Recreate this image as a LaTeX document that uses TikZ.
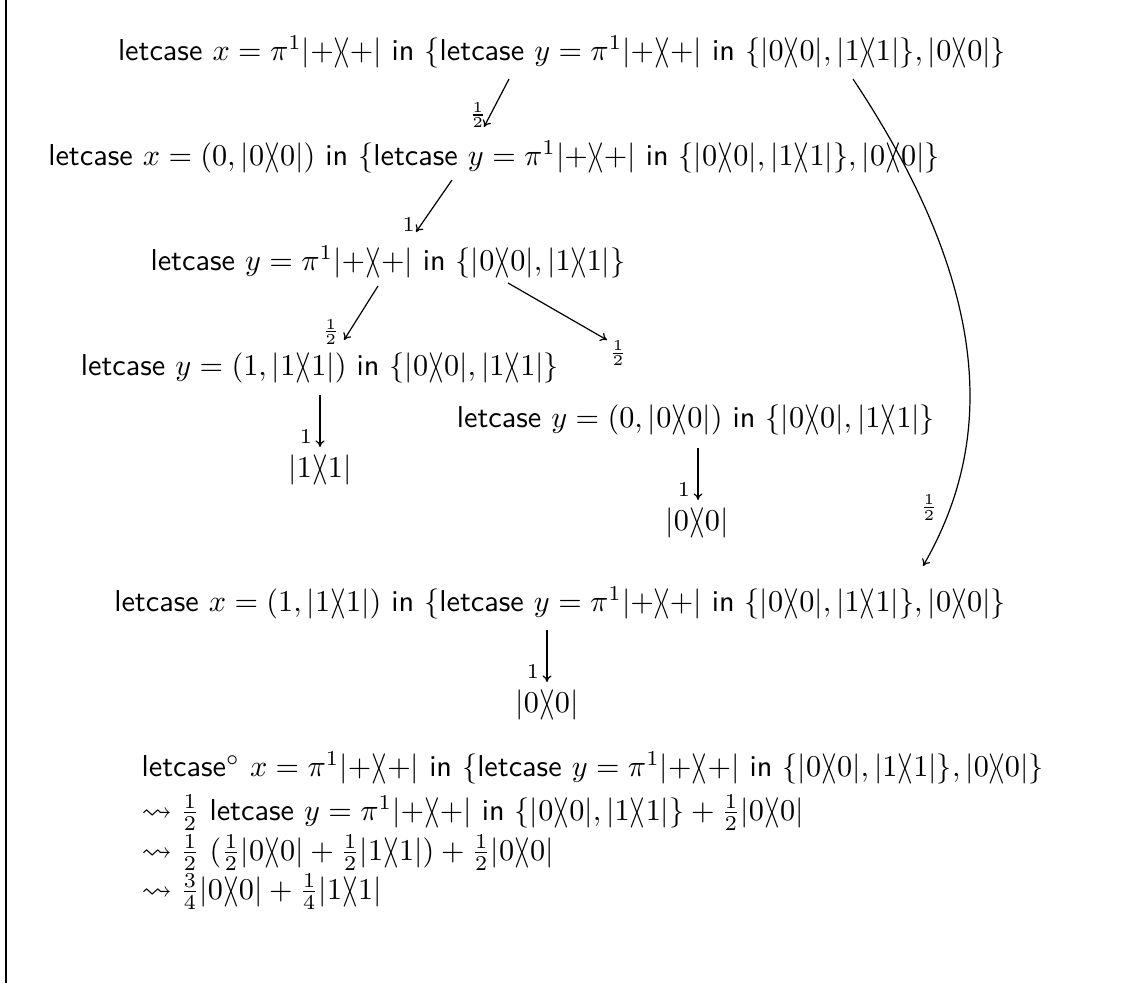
\documentclass[tikz,border=0pt]{standalone}
\usepackage{amssymb}
\usetikzlibrary{arrows.meta}
\newcommand{\mykb}[1]{|#1\rangle\mkern-4.5mu\langle#1|}
\newcommand{\Lcs}{\textsf{letcase}}
\newcommand{\Kin}{\textsf{in}}
\begin{document}
\begin{tikzpicture}[x=0.331pt,y=-0.331pt,
  term/.style={inner sep=1pt},
  arr/.style={-{To[length=2.2pt,width=3pt]}},
  lab/.style={font=\scriptsize,inner sep=1pt}]
\useasboundingbox (0,0) rectangle (1132,983);
\draw (6,0) -- (6,983);
\node[term] (n1) at (562,52) {\Lcs{} $x = \pi^1\mykb{+}$ \Kin{} $\{$\Lcs{} $y = \pi^1\mykb{+}$ \Kin{} $\{\mykb0, \mykb1\}, \mykb0\}$};
\node[term] (n2) at (494,157) {\Lcs{} $x = (0, \mykb0)$ \Kin{} $\{$\Lcs{} $y = \pi^1\mykb{+}$ \Kin{} $\{\mykb0, \mykb1\}, \mykb0\}$};
\node[term] (n3) at (388,262) {\Lcs{} $y = \pi^1\mykb{+}$ \Kin{} $\{\mykb0, \mykb1\}$};
\node[term] (n4) at (320,368) {\Lcs{} $y = (1, \mykb1)$ \Kin{} $\{\mykb0, \mykb1\}$};
\node[term] (n5) at (320,470) {$\mykb1$};
\node[term] (n6) at (696,420) {\Lcs{} $y = (0, \mykb0)$ \Kin{} $\{\mykb0, \mykb1\}$};
\node[term] (n7) at (697,523) {$\mykb0$};
\node[term] (n8) at (560,603) {\Lcs{} $x = (1, \mykb1)$ \Kin{} $\{$\Lcs{} $y = \pi^1\mykb{+}$ \Kin{} $\{\mykb0, \mykb1\}, \mykb0\}$};
\node[term] (n9) at (547,705) {$\mykb0$};
\node[term,anchor=base west] (b1) at (138,776) {\Lcs$^\circ$ $x = \pi^1\mykb{+}$ \Kin{} $\{$\Lcs{} $y = \pi^1\mykb{+}$ \Kin{} $\{\mykb0, \mykb1\}, \mykb0\}$};
\node[term,anchor=base west] (b2) at (138,820) {$\rightsquigarrow \frac{1}{2}$ \Lcs{} $y = \pi^1\mykb{+}$ \Kin{} $\{\mykb0, \mykb1\} + \frac{1}{2}\mykb0$};
\node[term,anchor=base west] (b3) at (138,860) {$\rightsquigarrow \frac{1}{2}$ $(\frac{1}{2}\mykb0 + \frac{1}{2}\mykb1) + \frac{1}{2}\mykb0$};
\node[term,anchor=base west] (b4) at (138,899) {$\rightsquigarrow \frac{3}{4}\mykb0 + \frac{1}{4}\mykb1$};
% arrow endpoints
\coordinate (a1s) at (509,79); \coordinate (a1e) at (484,127);
\coordinate (a2s) at (452,180); \coordinate (a2e) at (416,232);
\coordinate (a3s) at (378,286); \coordinate (a3e) at (344,340);
\coordinate (a4s) at (508,283); \coordinate (a4e) at (607,340);
\coordinate (a5s) at (320,395); \coordinate (a5e) at (320,447);
\coordinate (a6s) at (698,448); \coordinate (a6e) at (698,500);
\coordinate (a7s) at (853,79); \coordinate (a7e) at (923,566);
\coordinate (a8s) at (547,630); \coordinate (a8e) at (547,682);
\draw[arr] (a1s) -- node[lab,pos=0.75,left=0pt] {$\frac{1}{2}$} (a1e);
\draw[arr] (a2s) -- node[lab,pos=0.85,left=1pt] {$1$} (a2e);
\draw[arr] (a3s) -- node[lab,pos=0.85,left=2pt] {$\frac{1}{2}$} (a3e);
\draw[arr] (a4s) -- node[lab,pos=1,anchor=north west,xshift=-0.5pt,yshift=1pt] {$\frac{1}{2}$} (a4e);
\draw[arr] (a5s) -- node[lab,pos=0.8,left=1.5pt] {$1$} (a5e);
\draw[arr] (a6s) -- node[lab,pos=0.8,left=1.5pt] {$1$} (a6e);
\draw[arr] (a8s) -- node[lab,pos=0.8,left=1.5pt] {$1$} (a8e);
\draw[arr] (a7s) .. controls (1000,300) and (990,450) .. node[lab,pos=0.84,left=3pt] {$\frac{1}{2}$} (a7e);
\end{tikzpicture}
\end{document}
